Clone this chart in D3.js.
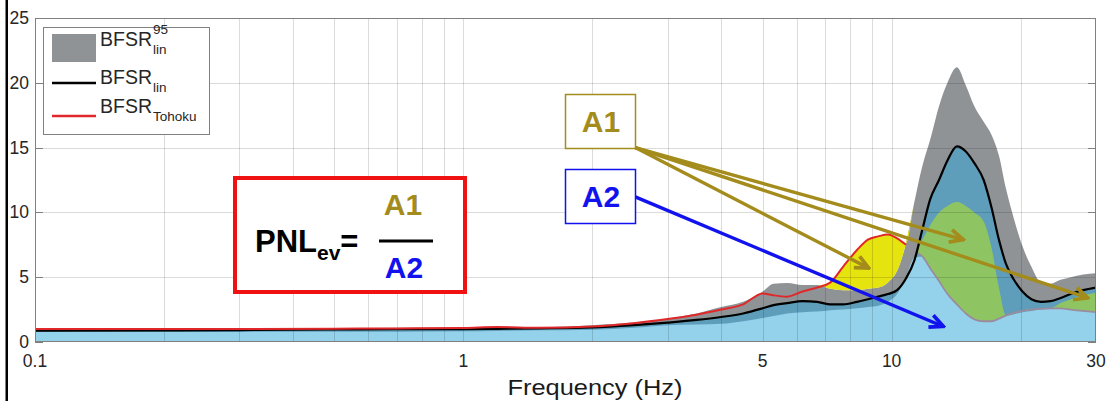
<!DOCTYPE html>
<html>
<head>
<meta charset="utf-8">
<script src="https://cdn.jsdelivr.net/npm/d3@7"></script>
<style>
  body { margin: 0; background: #fff; }
  text { font-family: "Liberation Sans", Arial, sans-serif; }
</style>
</head>
<body>
<svg></svg>
<script>
// frequencies (Hz) shared by every curve
const freq = [0.1, 0.2, 0.3, 0.5, 0.7, 1.0, 1.2, 1.5, 2.0, 2.5, 3.0, 3.5, 4.0, 4.5, 5.0, 5.3, 5.7, 6.2, 6.7, 7.2,
    7.7, 8.3, 8.8, 9.3, 9.8, 10.3, 10.8, 11.3, 11.8, 12.3, 12.9, 13.5, 14.2, 14.9, 15.6, 16.4, 17.1, 17.8,
    18.5, 19.3, 20.2, 21.2, 22.3, 23.5, 24.8, 26.2, 28.0, 30.0]

// upper bound of the 95% band of BFSR_lin
const upper95 = [1.05, 1.05, 1.05, 1.08, 1.1, 1.12, 1.18, 1.15, 1.3, 1.5, 1.8, 2.2, 2.7, 3.1, 3.9, 4.5, 4.55, 4.4, 4.4, 4.1,
    4.0, 4.0, 4.1, 4.2, 4.6, 5.5, 7.6, 10.8, 13.6, 15.6, 18.2, 20.0, 21.2, 19.8, 18.2, 17.0, 16.0, 14.4,
    11.8, 9.5, 7.4, 5.8, 4.6, 4.5, 4.8, 5.0, 5.2, 5.3]

// BFSR_lin (black line)
const median = [0.88, 0.9, 0.92, 0.97, 1.0, 1.0, 1.02, 1.05, 1.12, 1.3, 1.5, 1.7, 1.93, 2.2, 2.6, 2.85, 3.0, 3.15, 3.1, 2.9,
    2.9, 3.1, 3.3, 3.5, 3.7, 4.0, 4.9, 6.3, 8.7, 11.0, 12.5, 14.0, 15.1, 14.7, 13.8, 12.5, 10.4, 7.9,
    6.0, 4.8, 3.9, 3.3, 3.1, 3.15, 3.4, 3.7, 4.0, 4.2]

// lower bound of the 95% band
const lower95 = [0.77, 0.77, 0.78, 0.8, 0.8, 0.82, 0.85, 0.9, 0.95, 1.1, 1.3, 1.35, 1.4, 1.6, 1.85, 2.0, 2.2, 2.3, 2.35, 2.45,
    2.5, 2.6, 2.7, 2.8, 3.1, 3.7, 5.0, 6.5, 7.9, 9.0, 10.0, 10.5, 10.8, 10.5, 10.0, 9.3, 7.3, 4.2,
    2.0, 2.15, 2.3, 2.4, 2.5, 2.55, 3.0, 3.3, 3.6, 3.8]

// BFSR_Tohoku (red line)
const tohoku = [1.0, 1.0, 1.0, 1.03, 1.05, 1.08, 1.15, 1.1, 1.2, 1.45, 1.77, 2.1, 2.5, 2.9, 3.75, 3.6, 3.5, 3.9, 4.2, 4.6,
    5.8, 7.1, 7.9, 8.15, 8.3, 8.0, 7.5, 7.0, 6.6, 5.7, 4.7, 3.7, 2.9, 2.2, 1.75, 1.6, 1.6, 1.8,
    2.05, 2.25, 2.4, 2.5, 2.55, 2.6, 2.6, 2.5, 2.4, 2.3]

const yTicks = [0, 5, 10, 15, 20, 25]
const xTicks = [0.1, 1, 5, 10, 30]
const gridX = [0.2, 0.3, 0.4, 0.5, 0.6, 0.7, 0.8, 0.9, 1, 2, 3, 4, 5, 6, 7, 8, 9, 10, 20]
const gridY = [5, 10, 15, 20]

const gold = "#a48c1c"
const blue = "#1212ee"

const svg = d3.select("svg")
    .attr("width", 1108)
    .attr("height", 401)

const scaleX = d3.scaleLog()
    .domain([0.1, 30])
    .range([35, 1096])

const scaleY = d3.scaleLinear()
    .domain([0, 25])
    .range([342, 18])

const rows = freq.map((f, i) => {
    return { f: f, u: upper95[i], m: median[i], l: lower95[i], t: tohoku[i] }
})

// black frame line on the left side of the picture
svg.append("rect")
    .attr("x", 5.5)
    .attr("y", 0)
    .attr("width", 2.5)
    .attr("height", 401)
    .attr("fill", "#000")

svg.append("clipPath")
    .attr("id", "plot")
    .append("rect")
    .attr("x", 35)
    .attr("y", 18)
    .attr("width", 1061)
    .attr("height", 324)

const area = (lo, hi) => d3.area()
    .x(d => scaleX(d.f))
    .y0(d => scaleY(lo(d)))
    .y1(d => scaleY(hi(d)))
    .curve(d3.curveMonotoneX)

const fills = svg.append("g").attr("clip-path", "url(#plot)")

// stacked colour layers
fills.append("path").attr("d", area(d => 0, d => d.u)(rows)).attr("fill", "#8f9395")
fills.append("path").attr("d", area(d => 0, d => d.m)(rows)).attr("fill", "#5e9eba")
fills.append("path").attr("d", area(d => 0, d => Math.min(d.t, d.l))(rows)).attr("fill", "#94d1ea")
fills.append("path").attr("d", area(d => d.t, d => Math.max(d.t, d.l))(rows)).attr("fill", "#8fc463")
fills.append("path").attr("d", area(d => d.u, d => Math.max(d.u, d.t))(rows)).attr("fill", "#e6e40e")

// grid
const grid = svg.append("g")
    .attr("stroke", "#000")
    .attr("stroke-opacity", 0.14)
    .attr("stroke-width", 1)

grid.selectAll("line.gx")
    .data(gridX)
    .enter()
    .append("line")
    .attr("x1", d => Math.round(scaleX(d)) + 0.5)
    .attr("x2", d => Math.round(scaleX(d)) + 0.5)
    .attr("y1", 18)
    .attr("y2", 342)

grid.selectAll("line.gy")
    .data(gridY)
    .enter()
    .append("line")
    .attr("x1", 35)
    .attr("x2", 1096)
    .attr("y1", d => Math.round(scaleY(d)) + 0.5)
    .attr("y2", d => Math.round(scaleY(d)) + 0.5)

const line = (key, keep) => d3.line()
    .defined(keep)
    .x(d => scaleX(d.f))
    .y(d => scaleY(d[key]))
    .curve(d3.curveMonotoneX)

const lines = svg.append("g").attr("clip-path", "url(#plot)").attr("fill", "none")

lines.append("path")
    .attr("d", line("t", d => d.f >= 10.8)(rows))
    .attr("stroke", "#9b8b9e")
    .attr("stroke-width", 1.8)

lines.append("path")
    .attr("d", line("m", d => true)(rows))
    .attr("stroke", "#000")
    .attr("stroke-width", 2.2)

lines.append("path")
    .attr("d", line("t", d => d.f <= 10.8)(rows))
    .attr("stroke", "#e0282a")
    .attr("stroke-width", 2)

// axes box and inner ticks
svg.append("rect")
    .attr("x", 35.5)
    .attr("y", 18.5)
    .attr("width", 1060)
    .attr("height", 323)
    .attr("fill", "none")
    .attr("stroke", "#808080")

const ticks = svg.append("g").attr("stroke", "#808080")

ticks.selectAll("line.yl")
    .data(yTicks)
    .enter()
    .append("line")
    .attr("x1", 35)
    .attr("x2", 43)
    .attr("y1", d => Math.round(scaleY(d)) + 0.5)
    .attr("y2", d => Math.round(scaleY(d)) + 0.5)

ticks.selectAll("line.yr")
    .data(yTicks)
    .enter()
    .append("line")
    .attr("x1", 1088)
    .attr("x2", 1096)
    .attr("y1", d => Math.round(scaleY(d)) + 0.5)
    .attr("y2", d => Math.round(scaleY(d)) + 0.5)

svg.selectAll("text.ytick")
    .data(yTicks)
    .enter()
    .append("text")
    .attr("class", "ytick")
    .attr("x", 29)
    .attr("y", d => scaleY(d) + 6)
    .attr("text-anchor", "end")
    .attr("font-size", 17.5)
    .attr("fill", "#262626")
    .text(d => d)

svg.selectAll("text.xtick")
    .data(xTicks)
    .enter()
    .append("text")
    .attr("class", "xtick")
    .attr("x", d => scaleX(d))
    .attr("y", 367)
    .attr("text-anchor", "middle")
    .attr("font-size", 17.5)
    .attr("fill", "#262626")
    .text(d => d)

svg.append("text")
    .attr("x", 595)
    .attr("y", 395)
    .attr("text-anchor", "middle")
    .attr("font-size", 22)
    .attr("textLength", 175)
    .attr("lengthAdjust", "spacingAndGlyphs")
    .attr("fill", "#1a1a1a")
    .text("Frequency (Hz)")

// legend
const legend = svg.append("g")

legend.append("rect")
    .attr("x", 43.5)
    .attr("y", 27.5)
    .attr("width", 166)
    .attr("height", 107)
    .attr("fill", "#fff")
    .attr("stroke", "#808080")

legend.append("rect")
    .attr("x", 52)
    .attr("y", 34)
    .attr("width", 44)
    .attr("height", 28)
    .attr("fill", "#8f9395")

legend.append("line")
    .attr("x1", 52).attr("x2", 96)
    .attr("y1", 83).attr("y2", 83)
    .attr("stroke", "#000")
    .attr("stroke-width", 2.6)

legend.append("line")
    .attr("x1", 52).attr("x2", 96)
    .attr("y1", 116).attr("y2", 116)
    .attr("stroke", "#e0282a")
    .attr("stroke-width", 2.6)

const legendItems = [
    { y: 46, sup: "95", sub: "lin" },
    { y: 84, sup: "", sub: "lin" },
    { y: 113, sup: "", sub: "Tohoku" }
]

legendItems.forEach(item => {
    const main = legend.append("text")
        .attr("x", 100)
        .attr("y", item.y)
        .attr("font-size", 19.5)
        .attr("fill", "#262626")
        .text("BFSR")
    const w = main.node().getComputedTextLength()
    legend.append("text")
        .attr("x", 101 + w)
        .attr("y", item.y + 8)
        .attr("font-size", 13.5)
        .attr("fill", "#262626")
        .text(item.sub)
    if (item.sup) {
        legend.append("text")
            .attr("x", 101 + w)
            .attr("y", item.y - 12)
            .attr("font-size", 13.5)
            .attr("fill", "#262626")
            .text(item.sup)
    }
})

// PNL formula box
svg.append("rect")
    .attr("x", 235)
    .attr("y", 178)
    .attr("width", 230)
    .attr("height", 114)
    .attr("fill", "#fff")
    .attr("stroke", "#f01212")
    .attr("stroke-width", 4)

const formula = svg.append("text")
    .attr("x", 255)
    .attr("y", 252)
    .attr("font-size", 31)
    .attr("font-weight", "bold")
    .attr("fill", "#000")

formula.append("tspan").text("PNL")
formula.append("tspan").attr("font-size", 21).attr("dy", 8).text("ev")
formula.append("tspan").attr("dy", -8).text("=")

svg.append("text")
    .attr("x", 403)
    .attr("y", 215)
    .attr("text-anchor", "middle")
    .attr("font-size", 30)
    .attr("font-weight", "bold")
    .attr("fill", gold)
    .text("A1")

svg.append("line")
    .attr("x1", 379).attr("x2", 433)
    .attr("y1", 241).attr("y2", 241)
    .attr("stroke", "#000")
    .attr("stroke-width", 3)

svg.append("text")
    .attr("x", 404)
    .attr("y", 278)
    .attr("text-anchor", "middle")
    .attr("font-size", 30)
    .attr("font-weight", "bold")
    .attr("fill", blue)
    .text("A2")

// arrow heads
const defs = svg.append("defs")

const addMarker = (id, color) => {
    defs.append("marker")
        .attr("id", id)
        .attr("viewBox", "0 0 12 12")
        .attr("refX", 10.5)
        .attr("refY", 6)
        .attr("markerWidth", 17)
        .attr("markerHeight", 17)
        .attr("markerUnits", "userSpaceOnUse")
        .attr("orient", "auto")
        .append("path")
        .attr("d", "M1,1.5 L10.5,6 L1,10.5")
        .attr("fill", "none")
        .attr("stroke", color)
        .attr("stroke-width", 2.6)
}
addMarker("head-gold", gold)
addMarker("head-blue", blue)

// annotation arrows, in data coordinates (Hz, value)
const arrows = [
    { from: [2.52, 15.0], to: [8.84, 5.7], color: gold, head: "head-gold" },
    { from: [2.52, 15.0], to: [14.7, 7.9], color: gold, head: "head-gold" },
    { from: [2.52, 15.0], to: [28.7, 3.4], color: gold, head: "head-gold" },
    { from: [2.52, 11.2], to: [13.2, 1.2], color: blue, head: "head-blue" }
]

svg.selectAll("line.arrow")
    .data(arrows)
    .enter()
    .append("line")
    .attr("class", "arrow")
    .attr("x1", d => scaleX(d.from[0]))
    .attr("y1", d => scaleY(d.from[1]))
    .attr("x2", d => scaleX(d.to[0]))
    .attr("y2", d => scaleY(d.to[1]))
    .attr("stroke", d => d.color)
    .attr("stroke-width", 3.4)
    .attr("marker-end", d => `url(#${d.head})`)

// A1 / A2 label boxes
const labels = [
    { text: "A1", color: gold, x: 565, y: 94 },
    { text: "A2", color: blue, x: 565, y: 169 }
]

labels.forEach(d => {
    svg.append("rect")
        .attr("x", d.x + 0.5)
        .attr("y", d.y + 0.5)
        .attr("width", 70)
        .attr("height", 54)
        .attr("fill", "#fff")
        .attr("stroke", d.color)
        .attr("stroke-width", 1.5)
    svg.append("text")
        .attr("x", d.x + 36)
        .attr("y", d.y + 38)
        .attr("text-anchor", "middle")
        .attr("font-size", 30)
        .attr("font-weight", "bold")
        .attr("fill", d.color)
        .text(d.text)
})
</script>
</body>
</html>
